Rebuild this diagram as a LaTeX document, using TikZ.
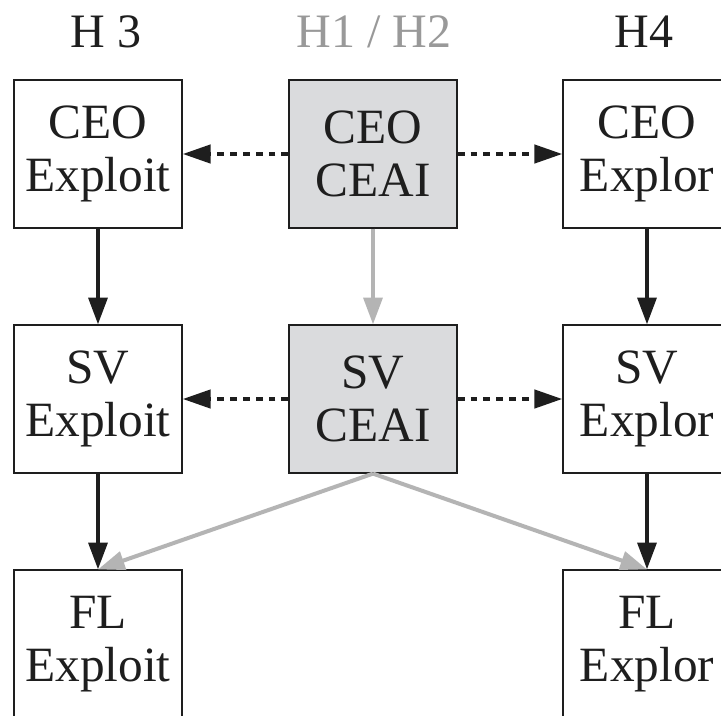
\documentclass[tikz,border=0pt]{standalone}
\usepackage{fontspec}
\setmainfont{Liberation Serif}
\usetikzlibrary{arrows.meta}
\definecolor{boxgray}{RGB}{218,219,221}
\definecolor{linegray}{RGB}{180,180,180}
\definecolor{ink}{RGB}{30,30,30}
\begin{document}
\begin{tikzpicture}[x=0.75pt,y=-0.75pt,
  box/.style={draw=ink,line width=0.9pt,rectangle,minimum width=126pt,minimum height=111pt,
    align=center,inner sep=0pt,text=ink,font=\fontsize{37}{39.5}\selectfont},
  shaded/.style={box,fill=boxgray},
  head/.style={font=\fontsize{36}{38}\selectfont,inner sep=0pt},
  solidarrow/.style={draw=ink,line width=3pt,-{Triangle[length=20pt,width=14pt]}},
  grayarrow/.style={draw=linegray,line width=3pt,-{Triangle[length=20pt,width=14pt]}},
  dotarrow/.style={draw=ink,line width=3.2pt,dash pattern=on 5.2pt off 4.5pt,
    -{Triangle[length=21pt,width=13.5pt]}}]
\clip (0,0) rectangle (721,715);
\fill[white] (0,0) rectangle (721,715);

% column headings
\node[head,text=ink] (h3) at (106,32) {H 3};
\node[head,text=linegray!85!black] (h12) at (374,32) {H1 / H2};
\node[head,text=ink] (h4) at (644,32) {H4};

% boxes
\node[box] (ceoexploit) at (98,154) {CEO\\Exploit};
\node[shaded] (ceoceai) at (373,154) {CEO\\CEAI};
\node[box] (ceoexplor) at (647,154) {CEO\\Explor};

\node[box] (svexploit) at (98,399) {SV\\Exploit};
\node[shaded] (svceai) at (373,399) {SV\\CEAI};
\node[box] (svexplor) at (647,399) {SV\\Explor};

\node[box] (flexploit) at (98,644) {FL\\Exploit};
\node[box] (flexplor) at (647,644) {FL\\Explor};

% horizontal influence
\draw[dotarrow] (ceoceai.west) -- (ceoexploit.east);
\draw[dotarrow] (ceoceai.east) -- (ceoexplor.west);
\draw[dotarrow] (svceai.west) -- (svexploit.east);
\draw[dotarrow] (svceai.east) -- (svexplor.west);

% vertical chains
\draw[solidarrow] (ceoexploit.south) -- (svexploit.north);
\draw[solidarrow] (svexploit.south) -- (flexploit.north);
\draw[solidarrow] (ceoexplor.south) -- (svexplor.north);
\draw[solidarrow] (svexplor.south) -- (flexplor.north);

% CEAI chain
\draw[grayarrow] (ceoceai.south) -- (svceai.north);
\draw[grayarrow] (svceai.south) -- (flexploit.north);
\draw[grayarrow] (svceai.south) -- (flexplor.north);
\end{tikzpicture}
\end{document}
